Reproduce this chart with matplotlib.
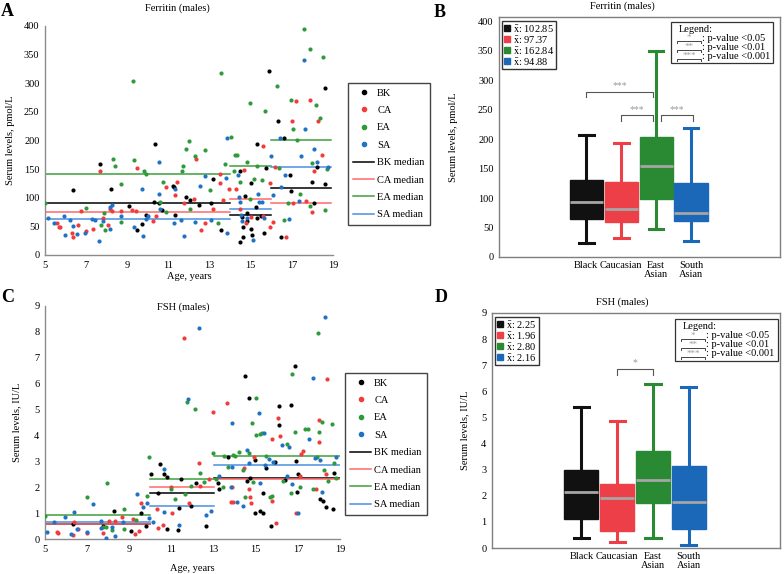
import matplotlib
matplotlib.use("Agg")
import matplotlib.pyplot as plt
from matplotlib.lines import Line2D
from matplotlib.patches import Rectangle

plt.rcParams["font.family"] = ["Liberation Serif", "DejaVu Serif"]
plt.rcParams["mathtext.fontset"] = "stix"
plt.rcParams["font.size"] = 7

groups = ["BK", "CA", "EA", "SA"]
dot_colors = ["#000000", "#f03c3c", "#2f9a3a", "#1f72c4"]
med_colors = ["#000000", "#ff6a6a", "#3f9f3f", "#4a90e2"]
box_colors = ["#111111", "#ec3f48", "#2a8a33", "#1c68b8"]

# ---- panel A: ferritin vs age (age, pmol/L)
fer_bk = [(6.37, 113), (7.68, 158), (8.22, 115), (9.08, 86), (9.47, 43), (9.73, 54),
          (9.91, 70), (10.32, 93), (10.35, 194), (10.56, 90), (10.7, 78), (11.2, 121),
          (11.26, 118), (11.33, 70), (11.85, 101), (12.07, 96), (12.5, 88), (13.05, 90),
          (13.16, 133), (13.55, 43), (14.5, 22), (14.5, 147), (14.64, 31), (14.64, 49),
          (14.7, 103), (14.84, 74), (15.0, 46), (15.03, 126), (15.05, 35), (15.24, 84),
          (15.3, 193), (15.3, 64), (15.5, 68), (15.65, 39), (15.73, 151), (15.88, 321),
          (16.33, 234), (16.46, 32), (16.62, 204), (16.9, 139), (16.98, 111), (17.96, 128),
          (18.24, 153), (18.6, 292), (18.6, 124), (18.1, 91), (14.6, 66), (14.8, 60)]
fer_ca = [(5.6, 56), (5.68, 49), (5.73, 48), (6.3, 38), (6.38, 32), (6.6, 52), (6.75, 77),
          (7.0, 42), (7.34, 46), (7.68, 147), (7.8, 64), (8.05, 52), (8.17, 81), (8.25, 77),
          (8.7, 77), (9.24, 78), (9.42, 77), (9.47, 151), (10.25, 60), (10.38, 68),
          (10.9, 119), (11.33, 105), (11.42, 128), (11.75, 90), (12.24, 97), (12.33, 167),
          (12.56, 43), (12.76, 56), (13.16, 81), (13.5, 142), (13.5, 125), (13.67, 96),
          (13.95, 115), (14.3, 115), (14.5, 81), (14.67, 149), (14.76, 56), (15.0, 66),
          (15.6, 190), (15.6, 68), (15.94, 126), (15.94, 49), (16.1, 57), (16.2, 154),
          (16.7, 31), (17.02, 234), (17.05, 90), (17.18, 268), (17.7, 95), (17.86, 270),
          (17.96, 75), (18.07, 146), (18.28, 234), (18.48, 175)]
fer_ea = [(5.0, 90), (7.0, 82), (7.7, 52), (7.85, 74), (7.9, 43), (8.3, 168), (8.4, 155),
          (8.7, 123), (8.7, 58), (9.3, 303), (9.35, 166), (9.8, 147), (9.9, 142), (10.6, 93),
          (10.75, 127), (10.9, 75), (11.65, 147), (11.7, 155), (11.85, 185), (12.0, 198),
          (12.05, 81), (12.3, 173), (12.8, 184), (13.0, 113), (13.4, 56), (13.55, 318),
          (13.75, 159), (14.03, 206), (14.26, 175), (14.35, 175), (14.2, 147), (14.47, 127),
          (14.8, 163), (14.95, 265), (14.95, 97), (15.15, 132), (15.3, 155), (15.57, 130),
          (15.7, 252), (16.26, 295), (16.37, 152), (16.6, 61), (16.8, 91), (16.96, 271),
          (17.05, 219), (17.23, 201), (17.38, 107), (17.6, 395), (17.9, 359), (17.9, 85),
          (18.0, 160), (18.15, 261), (18.36, 239), (18.5, 346), (18.6, 78), (18.72, 150)]
fer_sa = [(5.13, 64), (5.46, 55), (5.94, 68), (5.98, 35), (6.22, 61), (6.38, 50), (6.55, 37),
          (6.95, 38), (7.28, 62), (7.41, 61), (7.63, 24), (7.8, 59), (8.17, 45), (8.14, 83),
          (8.25, 87), (8.69, 68), (9.34, 48), (9.7, 115), (9.76, 33), (9.91, 63), (10.02, 68),
          (10.55, 163), (10.56, 107), (10.6, 80), (11.3, 116), (11.26, 55), (11.59, 61),
          (11.75, 34), (12.3, 58), (12.52, 121), (12.76, 137), (13.08, 61), (13.83, 204),
          (13.78, 135), (13.86, 38), (14.38, 139), (14.44, 101), (14.5, 92), (14.54, 70),
          (14.6, 60), (14.8, 64), (15.13, 26), (15.37, 107), (15.4, 93), (15.57, 93),
          (15.65, 65), (15.99, 172), (16.1, 104), (16.43, 204), (16.49, 118), (16.66, 139),
          (16.87, 62), (17.33, 94), (17.59, 340), (17.62, 220), (17.43, 172), (18.06, 185),
          (18.2, 162), (18.75, 154)]
fer_bins = [(5, 14), (14, 16), (16, 18.9)]
fer_medians = [[90, 69, 117], [75, 97, 90], [142, 155, 200], [62, 81, 154]]

# ---- panel C: FSH vs age (age, IU/L)
fsh_bk = [(6.33, 0.6), (7.73, 0.51), (8.26, 1.09), (9.1, 0.33), (9.55, 1.0), (9.8, 0.53),
          (10.03, 2.5), (10.38, 1.77), (10.44, 2.9), (10.67, 2.5), (10.81, 2.41), (10.8, 0.4),
          (11.3, 0.36), (11.35, 1.21), (11.47, 2.32), (11.95, 1.3), (12.18, 2.16), (12.64, 0.53),
          (13.2, 2.16), (13.28, 1.94), (13.68, 3.16), (14.48, 6.31), (14.68, 5.43), (14.6, 2.25),
          (14.75, 2.35), (14.98, 3.04), (15.33, 1.8), (15.18, 1.1), (15.34, 1.03), (14.95, 1.0),
          (15.5, 2.76), (15.74, 0.5), (15.9, 2.96), (16.1, 5.14), (16.12, 4.41), (16.4, 2.3),
          (16.66, 5.18), (16.85, 6.67), (16.9, 3.01), (16.96, 1.83), (17.0, 2.5), (18.03, 1.54),
          (18.19, 1.49), (18.32, 1.26), (18.68, 1.16), (18.73, 2.56)]
fsh_ca = [(5.56, 0.27), (5.62, 0.26), (6.33, 0.17), (6.36, 0.65), (6.57, 0.41), (6.97, 0.26),
          (7.73, 0.26), (8.05, 0.71), (8.3, 0.72), (8.66, 0.87), (9.17, 0.77), (9.25, 0.19),
          (9.46, 0.32), (9.57, 1.39), (10.33, 1.16), (10.38, 0.44), (10.62, 0.55), (10.99, 2.03),
          (11.05, 1.03), (11.58, 7.77), (11.82, 1.39), (12.33, 2.93), (12.34, 2.05), (12.97, 4.92),
          (12.78, 2.31), (13.62, 5.26), (13.83, 1.45), (13.88, 2.03), (13.93, 1.43), (14.45, 2.73),
          (14.74, 1.62), (14.79, 1.39), (14.9, 3.18), (14.7, 1.94), (15.77, 3.86), (15.75, 1.46),
          (15.95, 0.64), (16.06, 4.66), (16.17, 3.97), (17.1, 2.43), (17.13, 3.28), (17.24, 3.39),
          (16.91, 1.02), (17.85, 1.95), (18.0, 4.6), (18.0, 3.73), (18.32, 2.5), (18.38, 6.16)]
fsh_ea = [(5.0, 0.9), (7.0, 1.64), (7.74, 0.46), (7.9, 0.46), (7.94, 2.18), (8.2, 0.36),
          (8.73, 1.17), (8.73, 0.39), (9.33, 0.75), (9.84, 1.68), (9.94, 3.18), (10.97, 1.93),
          (11.15, 1.55), (11.63, 1.75), (11.75, 5.3), (11.95, 2.07), (12.13, 5.02), (12.37, 2.54),
          (12.53, 2.22), (12.95, 3.31), (13.1, 2.31), (13.43, 2.0), (13.5, 3.2), (13.69, 2.8),
          (13.9, 3.26), (14.0, 3.22), (14.23, 3.38), (14.4, 2.67), (14.47, 1.64), (14.66, 3.34),
          (14.83, 4.49), (14.86, 2.21), (15.0, 5.46), (15.03, 4.0), (15.2, 4.04), (15.3, 4.08),
          (15.48, 3.21), (15.7, 1.64), (15.75, 1.67), (16.28, 2.25), (16.48, 3.66), (16.69, 1.78),
          (16.7, 6.35), (16.88, 4.15), (17.1, 2.0), (17.33, 4.26), (17.5, 4.26), (17.7, 1.95),
          (17.92, 3.18), (17.95, 7.93), (18.0, 4.13), (18.13, 4.52), (18.26, 2.68), (18.45, 2.23),
          (18.62, 4.44), (18.71, 2.95), (18.79, 2.38)]
fsh_sa = [(5.08, 0.3), (5.45, 0.65), (5.96, 0.87), (6.24, 0.19), (6.36, 1.04), (6.52, 0.39),
          (6.97, 0.27), (7.3, 1.35), (7.65, 0.71), (7.68, 0.42), (7.9, 0.04), (8.18, 0.46),
          (8.32, 0.13), (8.72, 0.65), (9.38, 1.75), (9.65, 1.26), (9.82, 1.39), (9.94, 0.81),
          (10.12, 0.68), (10.63, 1.07), (10.65, 2.71), (11.35, 0.54), (11.8, 5.42), (12.3, 8.15),
          (12.64, 0.94), (12.87, 1.09), (13.28, 2.45), (13.84, 2.03), (13.87, 2.77), (13.87, 4.49),
          (14.1, 1.45), (14.42, 1.27), (14.6, 3.45), (14.7, 2.93), (15.2, 2.16), (15.16, 4.86),
          (15.37, 4.11), (15.45, 2.85), (15.63, 3.1), (15.8, 2.97), (16.25, 3.63), (16.47, 2.45),
          (16.56, 3.56), (16.74, 2.12), (17.0, 1.02), (17.51, 3.86), (17.72, 6.21), (17.8, 3.14),
          (18.03, 3.05), (18.13, 1.84), (18.27, 8.57), (18.82, 3.16)]
fsh_bins = [(5, 10), (10, 13), (13, 19)]
fsh_medians = [[0.58, 1.77, 2.35], [0.6, 2.03, 2.33], [0.92, 2.32, 3.21], [0.65, 1.28, 2.87]]

# ---- panels B and D: box plots by ethnicity
box_cats = ["Black", "Caucasian", "East\nAsian", "South\nAsian"]
fer_whislo = [24, 33, 47, 27]
fer_q1 = [64, 59, 98, 61]
fer_med = [92.5, 81, 154, 74]
fer_q3 = [130, 127, 203, 126]
fer_whishi = [207, 193, 349, 219]
fer_mean = ["102.85", "97.37", "162.84", "94.88"]

fsh_whislo = [0.37, 0.24, 0.38, 0.10]
fsh_q1 = [1.12, 0.64, 1.74, 0.72]
fsh_med = [2.16, 1.92, 2.59, 1.76]
fsh_q3 = [2.99, 2.45, 3.73, 3.15]
fsh_whishi = [5.39, 4.88, 6.27, 6.16]
fsh_mean = ["2.25", "1.96", "2.80", "2.16"]

W, H = 784, 574
fig = plt.figure(figsize=(W / 100, H / 100), dpi=100)


def px_axes(l, t, r, b):
    return fig.add_axes([l / W, 1 - b / H, (r - l) / W, (b - t) / H])


def scatter_panel(ax, series, bins, medians, ylim, yticks, ylabel, legend_xy):
    for pts, c in zip(series, dot_colors):
        ax.scatter([p[0] for p in pts], [p[1] for p in pts], s=9, color=c,
                   linewidths=0, zorder=3)
    for meds, c in zip(medians, med_colors):
        for (a, b), m in zip(bins, meds):
            ax.plot([a, b], [m, m], color=c, lw=1.1, zorder=2)
    ax.set_xlim(5, 19)
    ax.set_ylim(*ylim)
    ax.set_xticks(range(5, 20, 2))
    ax.set_yticks(yticks)
    for s in ["top", "right"]:
        ax.spines[s].set_visible(False)
    for s in ["left", "bottom"]:
        ax.spines[s].set_color("#8c8c8c")
        ax.spines[s].set_linewidth(1.0)
    ax.tick_params(length=0, labelsize=7.5, pad=4)
    ax.set_ylabel(ylabel, fontsize=7.5)
    ax.set_xlabel("Age, years", fontsize=7.5)
    handles = [Line2D([], [], marker="o", ls="", color=c, markersize=3) for c in dot_colors]
    handles += [Line2D([], [], color=c, lw=1.1) for c in med_colors]
    labels = groups + [g + " median" for g in groups]
    ax.legend(handles, labels, loc="upper left", bbox_to_anchor=legend_xy,
              bbox_transform=fig.transFigure, fontsize=7.5, frameon=True,
              fancybox=False, edgecolor="#444444", framealpha=1, borderaxespad=0,
              handlelength=2.0, labelspacing=0.78, borderpad=0.5, handletextpad=0.3)


def box_panel(ax, lo, q1, med, q3, hi, means, ylim, yticks, ylabel):
    stats = [dict(whislo=a, q1=b, med=c, q3=d, whishi=e)
             for a, b, c, d, e in zip(lo, q1, med, q3, hi)]
    pos = [1, 2, 3, 4]
    art = ax.bxp(stats, positions=pos, widths=0.95, patch_artist=True,
                 showfliers=False, capwidths=0.42,
                 medianprops=dict(color="#a6a6a6", lw=2))
    for i, c in enumerate(box_colors):
        art["boxes"][i].set_facecolor(c)
        art["boxes"][i].set_edgecolor(c)
        for ln in art["whiskers"][2 * i:2 * i + 2] + art["caps"][2 * i:2 * i + 2]:
            ln.set_color(c)
            ln.set_linewidth(2.2)
    ax.set_xlim(-1.5, 6.55)
    ax.set_ylim(*ylim)
    ax.set_yticks(yticks)
    ax.set_xticks(pos)
    ax.set_xticklabels(box_cats, fontsize=7.5, linespacing=0.95)
    ax.tick_params(length=0, labelsize=7.5, pad=4)
    ax.tick_params(axis="x", pad=3)
    for s in ax.spines.values():
        s.set_color("#7f7f7f")
        s.set_linewidth(1.0)
    ax.set_ylabel(ylabel, fontsize=7.5)
    handles = [Line2D([], [], marker="s", ls="", color=c, markersize=5) for c in box_colors]
    labels = [r"$\bar{\mathrm{x}}$: " + m for m in means]
    ax.legend(handles, labels, loc="upper left", bbox_to_anchor=(0.01, 0.985),
              fontsize=7.5, fancybox=False, edgecolor="#333333", framealpha=1,
              handlelength=0.6, handletextpad=0.3, labelspacing=0.0,
              borderpad=0.2, borderaxespad=0)


def bracket(ax, x0, x1, y, d, stars):
    ax.plot([x0, x0, x1, x1], [y - d, y, y, y - d], color="#555555", lw=0.8)
    ax.text((x0 + x1) / 2, y + d * 0.3, stars, ha="center", va="bottom",
            color="#999999", fontsize=7)


def sig_legend(ax, x0, y0, x1, y1):
    tr = ax.transAxes
    ax.add_patch(Rectangle((x0, y0), x1 - x0, y1 - y0, transform=tr, fill=False,
                           edgecolor="#333333", lw=0.9, zorder=5))
    w, h = x1 - x0, y1 - y0
    ax.text(x0 + 0.08 * w, y1 - 0.17 * h, "Legend:", transform=tr, va="center",
            fontsize=7.5)
    rows = [("*", "0.05"), ("**", "0.01"), ("***", "0.001")]
    for k, (st, p) in enumerate(rows):
        yb = y1 - (0.47 + 0.22 * k) * h
        xa, xb = x0 + 0.06 * w, x0 + 0.29 * w
        ax.plot([xa, xa, xb, xb], [yb - 0.05 * h, yb, yb, yb - 0.05 * h],
                transform=tr, color="#444444", lw=0.7)
        ax.text((xa + xb) / 2, yb - 0.02 * h, st, transform=tr, ha="center",
                va="bottom", color="#999999", fontsize=6.5)
        ax.text(xb + 0.01 * w, yb + 0.08 * h, ": p-value <" + p, transform=tr,
                va="center", fontsize=7.5)


# A
axA = px_axes(45, 25.7, 333, 255)
scatter_panel(axA, [fer_bk, fer_ca, fer_ea, fer_sa], fer_bins, fer_medians,
              (0, 400), range(0, 401, 50), "Serum levels, pmol/L",
              (348 / W, 1 - 83 / H))
axA.yaxis.set_label_coords(-0.105, 0.5)
axA.xaxis.set_label_coords(0.5, -0.075)

# C
axC = px_axes(45, 305.7, 340, 539.3)
scatter_panel(axC, [fsh_bk, fsh_ca, fsh_ea, fsh_sa], fsh_bins, fsh_medians,
              (0, 9), range(0, 10), "Serum levels, IU/L",
              (345 / W, 1 - 373 / H))
axC.yaxis.set_label_coords(-0.081, 0.5)
axC.xaxis.set_label_coords(0.5, -0.105)

# B
axB = px_axes(499, 17, 780, 257)
box_panel(axB, fer_whislo, fer_q1, fer_med, fer_q3, fer_whishi, fer_mean,
          (0, 407), range(0, 401, 50), "Serum levels, pmol/L")
axB.yaxis.set_label_coords(-0.146, 0.5)
bracket(axB, 1, 2.9, 280, 9, "***")
bracket(axB, 2, 2.9, 240, 9, "***")
bracket(axB, 3.15, 4.05, 240, 9, "***")
sig_legend(axB, 0.612, 0.808, 0.975, 0.979)

# D
axD = px_axes(492, 313, 780, 548)
box_panel(axD, fsh_whislo, fsh_q1, fsh_med, fsh_q3, fsh_whishi, fsh_mean,
          (0, 9), range(0, 10), "Serum levels, IU/L")
axD.yaxis.set_label_coords(-0.078, 0.5)
bracket(axD, 2, 3, 6.86, 0.22, "*")
sig_legend(axD, 0.635, 0.796, 0.993, 0.974)

# titles and panel letters
for x, y, t in [(177, 8, "Ferritin (males)"), (622, 6, "Ferritin (males)"),
                (183, 307, "FSH (males)"), (622, 302, "FSH (males)")]:
    fig.text(x / W, 1 - y / H, t, ha="center", va="center", fontsize=7.5)
for x, y, t in [(7, 12, "A"), (440, 12.5, "B"), (8, 298, "C"), (441, 297, "D")]:
    fig.text(x / W, 1 - y / H, t, ha="center", va="center", fontsize=13,
             fontweight="bold")

fig.savefig("out.png", dpi=100)
